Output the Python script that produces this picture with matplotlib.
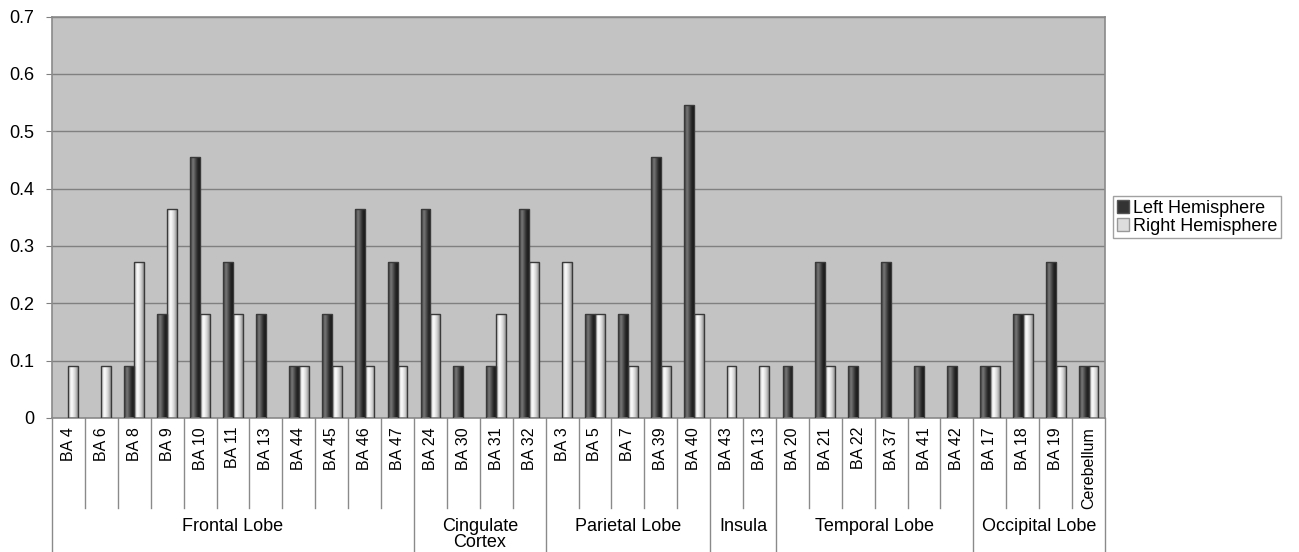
import numpy as np
import matplotlib
matplotlib.use('Agg')
import matplotlib.pyplot as plt
import matplotlib.transforms as mtransforms
from matplotlib.colors import LinearSegmentedColormap
from matplotlib.patches import Patch
from matplotlib.lines import Line2D

plt.rcParams['font.family'] = ['Liberation Sans', 'DejaVu Sans']

# Data (fractions, multiples of 1/11)
regions = ['BA 4', 'BA 6', 'BA 8', 'BA 9', 'BA 10', 'BA 11', 'BA 13', 'BA 44', 'BA 45', 'BA 46', 'BA 47',
           'BA 24', 'BA 30', 'BA 31', 'BA 32',
           'BA 3', 'BA 5', 'BA 7', 'BA 39', 'BA 40',
           'BA 43', 'BA 13',
           'BA 20', 'BA 21', 'BA 22', 'BA 37', 'BA 41', 'BA 42',
           'BA 17', 'BA 18', 'BA 19', 'Cerebellum']
left_counts = [0, 0, 1, 2, 5, 3, 2, 1, 2, 4, 3,
               4, 1, 1, 4,
               0, 2, 2, 5, 6,
               0, 0,
               1, 3, 1, 3, 1, 1,
               1, 2, 3, 1]
right_counts = [1, 1, 3, 4, 2, 2, 0, 1, 1, 1, 1,
                2, 0, 2, 3,
                3, 2, 1, 1, 2,
                1, 1,
                0, 1, 0, 0, 0, 0,
                1, 2, 1, 1]
left_vals = [c / 11 for c in left_counts]
right_vals = [c / 11 for c in right_counts]

groups = ['Frontal Lobe', 'Cingulate\nCortex', 'Parietal Lobe', 'Insula', 'Temporal Lobe', 'Occipital Lobe']
group_sizes = [11, 4, 5, 2, 6, 4]

FS = 13
W, H = 1299, 552
fig = plt.figure(figsize=(W / 100, H / 100), dpi=100)
ax_l, ax_r, ax_t, ax_b = 52, 1105, 16.5, 418
ax = fig.add_axes([ax_l / W, (H - ax_b) / H, (ax_r - ax_l) / W, (ax_b - ax_t) / H])
ax.set_facecolor('#c3c3c3')

left_cmap = LinearSegmentedColormap.from_list(
    'lh', [(0, '#2e2e2e'), (0.3, '#7a7a7a'), (0.75, '#2a2a2a'), (1, '#151515')])
right_cmap = LinearSegmentedColormap.from_list(
    'rh', [(0, '#aaaaaa'), (0.35, '#ffffff'), (0.7, '#d6d6d6'), (1, '#909090')])
grad = np.linspace(0, 1, 64).reshape(1, -1)

x = np.arange(len(regions))
bw = 0.3
for vals, off, cmap in [(left_vals, -bw / 2, left_cmap), (right_vals, bw / 2, right_cmap)]:
    bars = ax.bar(x + off, vals, bw, facecolor='none', edgecolor='#3a3a3a', linewidth=1.0, zorder=3)
    for rect, v in zip(bars, vals):
        if v <= 0:
            rect.set_visible(False)
            continue
        x0 = rect.get_x()
        im = ax.imshow(grad, cmap=cmap, extent=[x0, x0 + bw, 0, v], aspect='auto',
                       interpolation='bicubic', zorder=2)
        im.set_clip_path(rect)

ax.set_xlim(-0.5, len(regions) - 0.5)
ax.set_ylim(0, 0.7)
yt = np.arange(0, 0.71, 0.1)
ax.set_yticks(yt)
ax.set_yticklabels(['0'] + ['%.1f' % t for t in yt[1:]], fontsize=FS)
ax.yaxis.grid(True, color='#808080', linewidth=1.0)
ax.set_axisbelow(True)
ax.tick_params(axis='y', direction='out', length=4, color='#808080', pad=9)
ax.set_xticks([])
for s in ax.spines.values():
    s.set_color('#8a8a8a')
    s.set_linewidth(1.2)

# category table below the axis
trans = mtransforms.blended_transform_factory(ax.transData, fig.transFigure)
y_axis = (H - ax_b) / H
y_short = (H - 508) / H
for i, name in enumerate(regions):
    ax.text(i, (H - 427) / H, name, transform=trans, rotation=90, ha='center', va='top',
            fontsize=11.5, clip_on=False)

edges = np.concatenate([[0], np.cumsum(group_sizes)]) - 0.5
for i in range(1, len(regions)):
    b = i - 0.5
    if b in edges:
        continue
    ax.add_line(Line2D([b, b], [y_axis, y_short], transform=trans, color='#8a8a8a',
                       linewidth=1.0, clip_on=False))
for b in edges:
    ax.add_line(Line2D([b, b], [y_axis, 0], transform=trans, color='#8a8a8a',
                       linewidth=1.0, clip_on=False))
for g, lo, hi in zip(groups, edges[:-1], edges[1:]):
    ax.text((lo + hi) / 2, (H - 518) / H, g, transform=trans, ha='center', va='top',
            fontsize=FS, linespacing=0.9, clip_on=False)

handles = [Patch(facecolor='#333333', edgecolor='#555555', label='Left Hemisphere'),
           Patch(facecolor='#dddddd', edgecolor='#999999', label='Right Hemisphere')]
leg = fig.legend(handles=handles, loc='upper left', bbox_to_anchor=(1113 / W, (H - 196) / H),
                 fontsize=FS, frameon=True, fancybox=False, edgecolor='#8a8a8a',
                 handlelength=0.7, handleheight=0.7, handletextpad=0.2,
                 borderpad=0.2, labelspacing=0.05, borderaxespad=0)
leg.get_frame().set_linewidth(1.0)

fig.savefig('out.png', dpi=100)
